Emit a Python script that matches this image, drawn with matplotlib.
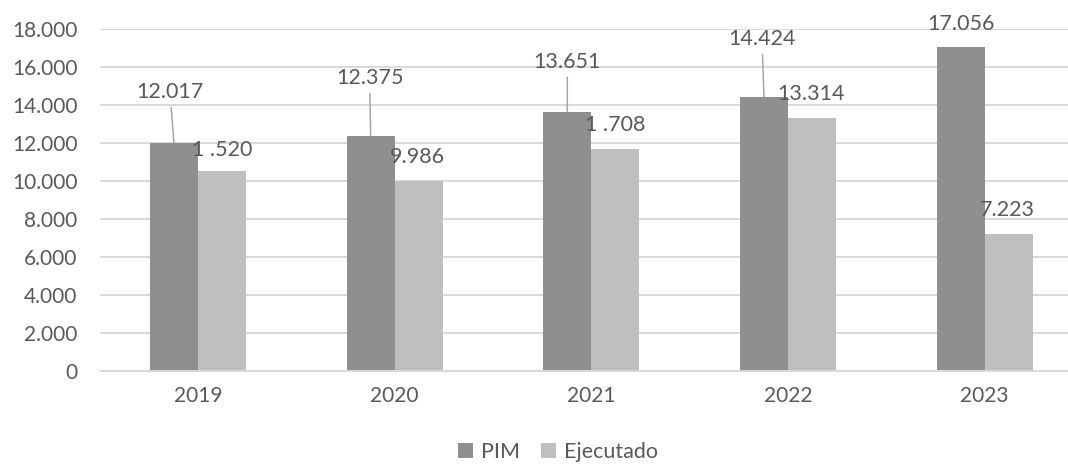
import matplotlib.pyplot as plt
import numpy as np

# datos
anios = ['2019', '2020', '2021', '2022', '2023']
pim = [12017, 12375, 13651, 14424, 17056]
ejecutado = [10520, 9986, 11708, 13314, 7223]

# desplazamiento de etiquetas (pixeles) desde el tope de cada barra
off_pim = [(-4, 51), (-1, 58), (0, 50), (-2, 58), (0, 23)]
off_eje = [(0, 21), (-1, 24), (0, 24), (-1, 24), (-1, 24)]

plt.rcParams['font.family'] = ['Lato', 'DejaVu Sans']
gris_txt = '#595959'


def fmt(v):
    return f'{v:,.0f}'.replace(',', '.')


fig = plt.figure(figsize=(10.68, 4.68), dpi=100)
ax = fig.add_axes([99.6 / 1068, 97 / 468, 983.4 / 1068, 342 / 468])

x = np.arange(len(anios))
w = 0.244
b1 = ax.bar(x - w / 2, pim, w, color='#8f8f8f', label='PIM', zorder=2)
b2 = ax.bar(x + w / 2, ejecutado, w, color='#bfbfbf', label='Ejecutado', zorder=2)

ax.set_xlim(-0.5, 4.5)
ax.set_ylim(0, 18000)
ax.set_yticks(np.arange(0, 18001, 2000))
ax.set_yticklabels([fmt(v) for v in np.arange(0, 18001, 2000)])
ax.set_xticks(x)
ax.set_xticklabels(anios)
ax.tick_params(axis='both', length=0, labelsize=15, labelcolor=gris_txt)
ax.tick_params(axis='x', pad=10.5)
ax.tick_params(axis='y', pad=16)
ax.yaxis.grid(True, color='#d9d9d9', lw=1.4, zorder=0)
ax.set_axisbelow(True)
for s in ['top', 'right', 'left']:
    ax.spines[s].set_visible(False)
ax.spines['bottom'].set_color('#d9d9d9')
ax.spines['bottom'].set_linewidth(1.4)

# etiquetas de datos
for i in range(len(anios)):
    xp = x[i] - w / 2
    dx, dy = off_pim[i]
    props = dict(arrowstyle='-', color='#a6a6a6', lw=1.1, shrinkA=2, shrinkB=0) if dy > 35 else None
    ax.annotate(fmt(pim[i]), xy=(xp, pim[i]), xytext=(dx, dy), textcoords='offset pixels',
                ha='center', va='center', fontsize=15.5, color=gris_txt,
                arrowprops=props, annotation_clip=False, zorder=3)
    txt = fmt(ejecutado[i])
    if i in (0, 2):  # digito oculto en el original
        txt = txt[0] + ' ' + txt[2:]
    dx, dy = off_eje[i]
    ax.annotate(txt, xy=(x[i] + w / 2, ejecutado[i]), xytext=(dx, dy), textcoords='offset pixels',
                ha='center', va='center', fontsize=15.5, color=gris_txt,
                annotation_clip=False, zorder=3)

fig.legend(handles=[b1, b2], loc='center', bbox_to_anchor=(558 / 1068, 16 / 468),
           ncol=2, frameon=False, fontsize=15.5, labelcolor=gris_txt,
           handlelength=0.7, handleheight=0.7, handletextpad=0.35, columnspacing=1.0)

fig.savefig('out.png', dpi=100)
